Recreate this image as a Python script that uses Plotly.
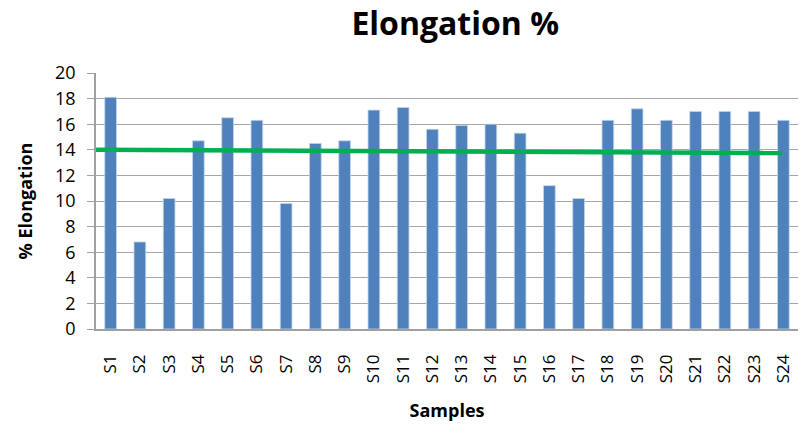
import plotly.graph_objects as go

# Sample labels and measured elongation (%)
samples = [f"S{i}" for i in range(1, 25)]
elongation = [18.1, 6.8, 10.2, 14.7, 16.5, 16.3, 9.8, 14.5, 14.7, 17.1, 17.3, 15.6,
              15.9, 16.0, 15.3, 11.2, 10.2, 16.3, 17.2, 16.3, 17.0, 17.0, 17.0, 16.3]

# Reference line across the chart (start/end positions on the sample axis and values)
ref_x = [0.27, 23.96]
ref_y = [14.0, 13.75]

y_ticks = list(range(0, 21, 2))
positions = list(range(1, len(samples) + 1))

FONT = "'Open Sans', sans-serif"

fig = go.Figure()
fig.add_trace(go.Bar(
    x=positions, y=elongation, width=0.4,
    marker=dict(color="#4F81BD", line=dict(color="#C3D4EA", width=0.8)),
    showlegend=False,
))
fig.add_trace(go.Scatter(
    x=ref_x, y=ref_y, mode="lines",
    line=dict(color="#00B050", width=4.5),
    showlegend=False,
))

fig.update_layout(
    width=800, height=425,
    margin=dict(l=96, r=2, t=73, b=96),
    paper_bgcolor="white", plot_bgcolor="white",
    font=dict(family=FONT, color="#000000", size=17),
    title=dict(text="<b>Elongation %</b>", x=0.569, xanchor="center",
               y=0.945, yanchor="middle",
               font=dict(family=FONT, size=32, color="#000000")),
)
fig.update_xaxes(
    range=[0.5, 24.5], tickmode="array", tickvals=positions, ticktext=samples,
    tickangle=-90, tickfont=dict(size=17), showgrid=False,
    showline=True, linecolor="#A0A0A0", linewidth=1.5, ticks="",
    ticklabelstandoff=17,
    title=dict(text="<b>Samples</b>", font=dict(size=18), standoff=22),
    zeroline=False,
)
fig.update_yaxes(
    range=[0, 20], tickmode="array", tickvals=y_ticks,
    showgrid=True, gridcolor="#A6A6A6", gridwidth=1.3,
    showline=True, linecolor="#A0A0A0", linewidth=1.5,
    ticks="outside", ticklen=7, tickcolor="#A0A0A0", tickwidth=1.3,
    tickfont=dict(size=18), ticklabelstandoff=8,
    title=dict(text="<b>% Elongation</b>", font=dict(size=18), standoff=18),
    zeroline=False,
)

fig.write_html("out.html")
